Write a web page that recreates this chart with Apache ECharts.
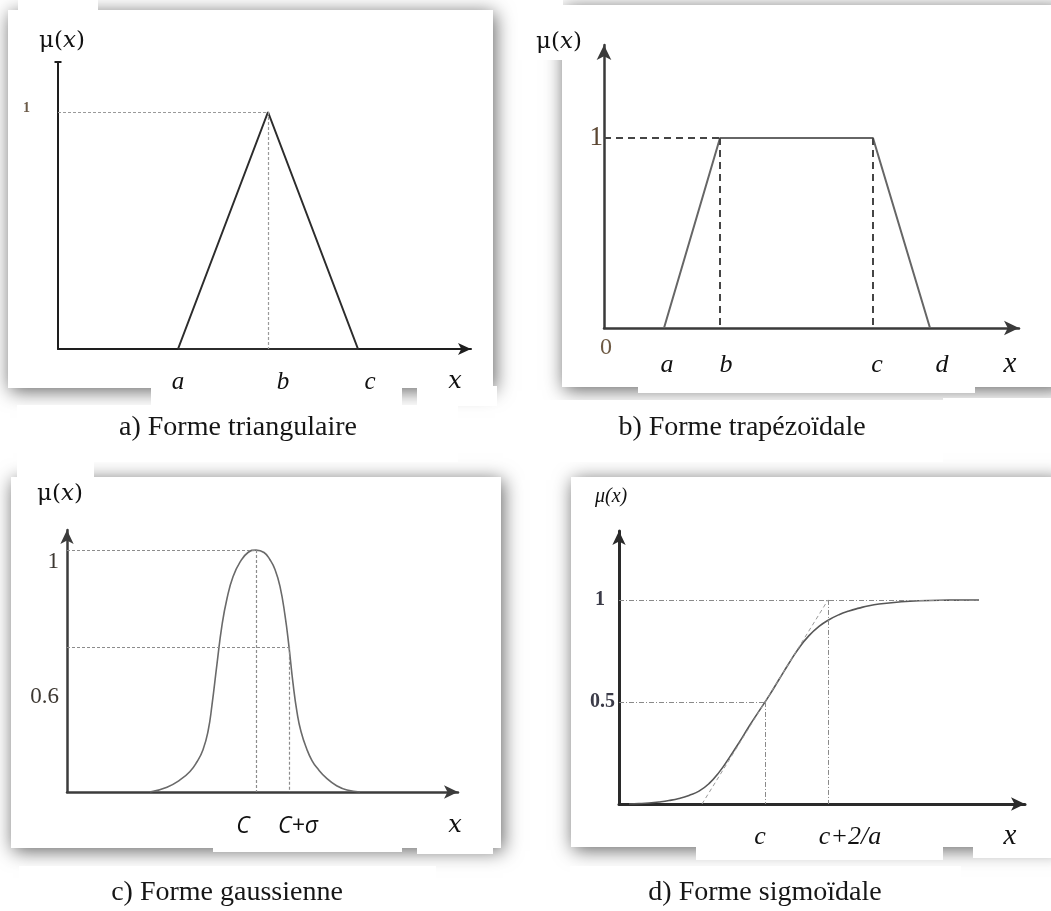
<!DOCTYPE html>
<html>
<head>
<meta charset="utf-8">
<script src="https://cdn.jsdelivr.net/npm/echarts@6/dist/echarts.min.js"></script>
<style>
  html, body { margin: 0; padding: 0; background: #ffffff; }
  #chart { width: 1051px; height: 911px; }
</style>
</head>
<body>
<div id="chart"></div>
<script>
// ---- a) triangular membership function ----
const triX = [12, 21, 30];
const triY = [0, 1, 0];
const triTicks = ['a', 'b', 'c'];
const triYTickValues = [1];
const triYTicks = ['1'];

// ---- b) trapezoidal membership function ----
const trapX = [6, 11.6, 26.9, 32.6];
const trapY = [0, 1, 1, 0];
const trapTickValues = [0, 6, 11.6, 26.9, 32.6];
const trapTicks = ['0', 'a', 'b', 'c', 'd'];
const trapYTickValues = [1];
const trapYTicks = ['1'];

// ---- c) gaussian membership function ----
const gaussCenter = 18.9;
const gaussSigmaPoint = 22.2;
const gaussLevel = 0.6;
const gaussX = [8.3, 10.0, 11.3, 12.3, 13.0, 13.6, 14.1, 14.5, 15.0, 15.5, 16.0, 16.6, 17.3, 18.1, 18.9,
                19.7, 20.3, 20.8, 21.3, 21.8, 22.2, 22.6, 23.0, 23.4, 24.0, 24.5, 25.0, 26.0, 27.0, 28.0, 29.3];
const gaussY = [0, 0.02, 0.05, 0.085, 0.125, 0.175, 0.25, 0.36, 0.53, 0.69, 0.80, 0.89, 0.95, 0.99, 1,
                0.99, 0.96, 0.92, 0.85, 0.73, 0.60, 0.45, 0.33, 0.25, 0.175, 0.13, 0.10, 0.055, 0.025, 0.008, 0];
const gaussTicks = ['C', 'C+σ'];
const gaussYTickValues = [1, 0.6];
const gaussYTicks = ['1', '0.6'];

// ---- d) sigmoid membership function ----
const sigCenter = 14.6;
const sigKnee = 20.9;          // c + 2/a
const sigTangentStart = 8.3;   // where the tangent at c meets the x axis
const sigX = [1, 2, 3, 4, 5, 6, 7, 8, 9, 10, 11, 12, 13, 14, 15, 16, 17, 18, 19, 20,
              21, 22, 23, 24, 25, 26, 28, 30, 33, 36];
const sigY = [0, 0.002, 0.005, 0.01, 0.017, 0.027, 0.042, 0.063, 0.10, 0.155, 0.225, 0.30, 0.38, 0.455,
              0.53, 0.61, 0.69, 0.765, 0.825, 0.87, 0.903, 0.928, 0.946, 0.96, 0.972, 0.98, 0.99, 0.996,
              0.999, 1.0];
const sigTicks = ['c', 'c+2/a'];
const sigYTickValues = [1, 0.5];
const sigYTicks = ['1', '0.5'];

const captions = ['a) Forme triangulaire', 'b) Forme trapézoïdale', 'c) Forme gaussienne', 'd) Forme sigmoïdale'];

// ---------------------------------------------------------------
const SERIF = '"Liberation Serif", "Times New Roman", serif';
const MATH = '"DejaVu Serif", serif';
const SANS = '"Open Sans", "DejaVu Sans", sans-serif';

const pairs = (xs, ys) => xs.map((x, i) => [x, ys[i]]);

// tick labels placed at given axis values; each label gets its own rich token style
function tickLabels(values, names, base, extra, margin) {
  const rich = {};
  names.forEach((n, i) => { rich['t' + i] = Object.assign({}, base, extra ? extra[i] : {}); });
  return {
    show: true,
    customValues: values,
    margin: margin,
    hideOverlap: false,
    formatter: (v) => {
      const i = values.findIndex(t => Math.abs(t - v) < 1e-6);
      return i < 0 ? '' : '{t' + i + '|' + names[i] + '}';
    },
    rich: rich
  };
}

function axisLine(color, width, endSymbol, size) {
  return {
    show: true, onZero: false,
    symbol: ['none', endSymbol], symbolSize: size,
    lineStyle: { color: color, width: width }
  };
}

function baseAxis(gridIndex, max) {
  return {
    type: 'value', gridIndex: gridIndex, min: 0, max: max,
    splitLine: { show: false }, axisTick: { show: false }
  };
}

function guides(segments, style) {
  return {
    silent: true, symbol: ['none', 'none'], animation: false,
    label: { show: false }, emphasis: { disabled: true },
    lineStyle: style,
    data: segments.map(s => [{ coord: s[0], lineStyle: s[2] }, { coord: s[1] }])
  };
}

const dotted = { color: '#8c8c8c', width: 1.2, type: [3, 2] };

const option = {
  animation: false,
  backgroundColor: '#ffffff',
  grid: [
    { left: 58, top: 62, width: 413, height: 287 },
    { left: 604, top: 45, width: 415, height: 283 },
    { left: 67, top: 530, width: 391, height: 262 },
    { left: 619, top: 531, width: 406, height: 273 }
  ],
  xAxis: [
    Object.assign(baseAxis(0, 41.3), {
      axisLine: axisLine('#1e1e1e', 2, 'arrow', [9, 13]),
      axisLabel: tickLabels(triX, triTicks,
        { fontFamily: SERIF, fontStyle: 'italic', fontSize: 25, color: '#111' },
        [{}, { padding: [0, 0, 0, 30] }, { padding: [0, 0, 0, 24] }], 21)
    }),
    Object.assign(baseAxis(1, 41.5), {
      axisLine: axisLine('#3a3a3a', 2.5, 'arrow', [11, 15]),
      axisLabel: tickLabels(trapTickValues, trapTicks,
        { fontFamily: SERIF, fontStyle: 'italic', fontSize: 26, color: '#111', padding: [18, 0, 0, 0] },
        [{ fontStyle: 'normal', fontSize: 24, color: '#6e5a44', padding: [2, 0, 0, 4] },
         { padding: [18, 0, 0, 6] }, { padding: [18, 0, 0, 12] },
         { padding: [18, 0, 0, 8] }, { padding: [18, 0, 0, 24] }], 6)
    }),
    Object.assign(baseAxis(2, 39.1), {
      axisLine: axisLine('#3c3c3c', 2.5, 'arrow', [10, 14]),
      axisLabel: tickLabels([gaussCenter, gaussSigmaPoint], gaussTicks,
        { fontFamily: SANS, fontStyle: 'italic', fontSize: 23, color: '#111' },
        [{ padding: [0, 26, 0, 0] }, { padding: [0, 0, 0, 18] }], 23)
    }),
    Object.assign(baseAxis(3, 40.6), {
      axisLine: axisLine('#2a2a2a', 3, 'arrow', [10, 14]),
      axisLabel: tickLabels([sigCenter, sigKnee], sigTicks,
        { fontFamily: SERIF, fontStyle: 'italic', fontSize: 26, color: '#111' },
        [{ padding: [0, 10, 0, 0] }, { padding: [0, 0, 0, 44] }], 20)
    })
  ],
  yAxis: [
    Object.assign(baseAxis(0, 1.211), {
      axisLine: axisLine('#1e1e1e', 2, 'rect', [7, 2]),
      axisLabel: tickLabels(triYTickValues, triYTicks,
        { fontFamily: SERIF, fontWeight: 'bold', fontSize: 14, color: '#6b5a48', padding: [0, 0, 8, 0] }, null, 28)
    }),
    Object.assign(baseAxis(1, 1.489), {
      axisLine: axisLine('#3a3a3a', 2.5, 'arrow', [11, 15]),
      axisLabel: tickLabels(trapYTickValues, trapYTicks,
        { fontFamily: SERIF, fontSize: 27, color: '#5b4632' }, null, 1)
    }),
    Object.assign(baseAxis(2, 1.083), {
      axisLine: axisLine('#3c3c3c', 2.5, 'arrow', [10, 14]),
      axisLabel: tickLabels(gaussYTickValues, gaussYTicks,
        { fontFamily: SERIF, fontSize: 23, color: '#3d3832' },
        [{ padding: [24, 0, 0, 0] }, { padding: [100, 0, 0, 0] }], 8)
    }),
    Object.assign(baseAxis(3, 1.338), {
      axisLine: axisLine('#2a2a2a', 3, 'arrow', [10, 14]),
      axisLabel: tickLabels(sigYTickValues, sigYTicks,
        { fontFamily: SERIF, fontWeight: 'bold', fontSize: 20, color: '#3b3b48' },
        [{ padding: [0, 10, 0, 0] }, {}], 4)
    })
  ],
  series: [
    {
      // a) triangle, closed along its base
      type: 'line', xAxisIndex: 0, yAxisIndex: 0, symbol: 'none', silent: true,
      data: pairs(triX, triY).concat([[triX[0], triY[0]]]),
      lineStyle: { color: '#2c2c2c', width: 2 },
      markLine: guides([
        [[0, triY[1]], [triX[1], triY[1]]],
        [[triX[1], triY[1]], [triX[1], 0]]
      ], { color: '#9a9a9a', width: 1.2, type: [3, 2] })
    },
    {
      // b) trapezoid
      type: 'line', xAxisIndex: 1, yAxisIndex: 1, symbol: 'none', silent: true,
      data: pairs(trapX, trapY),
      lineStyle: { color: '#666666', width: 2 },
      markLine: guides([
        [[0, trapY[1]], [trapX[1], trapY[1]]],
        [[trapX[1], trapY[1]], [trapX[1], 0]],
        [[trapX[2], trapY[2]], [trapX[2], 0]]
      ], { color: '#454545', width: 2, type: [7, 5] })
    },
    {
      // c) gaussian bell
      type: 'line', xAxisIndex: 2, yAxisIndex: 2, symbol: 'none', silent: true,
      smooth: 0.5,
      data: pairs(gaussX, gaussY),
      lineStyle: { color: '#6a6a6a', width: 1.6 },
      markLine: guides([
        [[0, 1], [gaussCenter, 1]],
        [[gaussCenter, 1], [gaussCenter, 0]],
        [[0, gaussLevel], [gaussSigmaPoint, gaussLevel]],
        [[gaussSigmaPoint, gaussLevel], [gaussSigmaPoint, 0]]
      ], dotted)
    },
    {
      // d) sigmoid
      type: 'line', xAxisIndex: 3, yAxisIndex: 3, symbol: 'none', silent: true,
      smooth: 0.5,
      data: pairs(sigX, sigY),
      lineStyle: { color: '#575757', width: 1.6 },
      markLine: guides([
        [[0, 1], [sigX[sigX.length - 1], 1]],
        [[0, 0.5], [sigCenter, 0.5]],
        [[sigCenter, 0.5], [sigCenter, 0]],
        [[sigKnee, 1], [sigKnee, 0]],
        [[sigTangentStart, 0], [sigKnee, 1], { color: '#9a9a9a', width: 1, type: [4, 3] }]
      ], { color: '#8a8a8a', width: 1, type: [5, 2, 1, 2] })
    }
  ],
  graphic: []
};

// panel sheets with drop shadows
const sheets = [
  [8, 10, 485, 378], [562, 5, 500, 382], [11, 477, 490, 371], [571, 477, 490, 370]
];
sheets.forEach(s => option.graphic.push({
  type: 'rect', z: -20, silent: true,
  shape: { x: s[0], y: s[1], width: s[2], height: s[3] },
  style: { fill: '#ffffff', shadowBlur: 18, shadowColor: 'rgba(0,0,0,0.62)', shadowOffsetX: 2, shadowOffsetY: 3 }
}));

// plain white patches behind axis titles, tick rows and captions
const patches = [
  [18, 0, 80, 12], [151, 386, 251, 20], [417, 386, 80, 20], [17, 405, 441, 57],
  [518, 0, 45, 60], [638, 385, 337, 8], [943, 398, 110, 24], [540, 400, 403, 62],
  [17, 462, 77, 43], [213, 846, 189, 6], [417, 846, 76, 8], [19, 866, 417, 45],
  [696, 845, 247, 15], [973, 845, 80, 13], [570, 866, 391, 45]
];
patches.forEach(p => option.graphic.push({
  type: 'rect', z: -10, silent: true,
  shape: { x: p[0], y: p[1], width: p[2], height: p[3] },
  style: { fill: '#ffffff' }
}));

// μ(x) axis titles
function muTitle(x, y, size, allItalic) {
  const up = allItalic
    ? { fontFamily: SERIF, fontStyle: 'italic', fontSize: size, fill: '#111' }
    : { fontFamily: MATH, fontSize: size, fill: '#111' };
  const it = allItalic
    ? up
    : { fontFamily: MATH, fontStyle: 'italic', fontSize: size, fill: '#111' };
  return {
    type: 'text', x: x, y: y, z: 10, silent: true,
    style: {
      text: '{u|μ(}{i|x}{u|)}', verticalAlign: 'middle', align: 'left',
      rich: { u: up, i: it }
    }
  };
}
option.graphic.push(muTitle(39, 41, 23, false));
option.graphic.push(muTitle(536, 42, 23, false));
option.graphic.push(muTitle(37, 494, 23, false));
option.graphic.push(muTitle(595, 497, 20, true));

// x axis titles
function xTitle(x, y, family, size) {
  return {
    type: 'text', x: x, y: y, z: 10, silent: true,
    style: { text: 'x', fontFamily: family, fontStyle: 'italic', fontSize: size, fill: '#111',
             align: 'center', verticalAlign: 'middle' }
  };
}
option.graphic.push(xTitle(455, 382, MATH, 24));
option.graphic.push(xTitle(1010, 364, SERIF, 29));
option.graphic.push(xTitle(455, 826, MATH, 24));
option.graphic.push(xTitle(1010, 836, SERIF, 29));

// captions under each panel
const captionPos = [[238, 428], [742, 428], [227, 893], [765, 893]];
captions.forEach((c, i) => option.graphic.push({
  type: 'text', x: captionPos[i][0], y: captionPos[i][1], z: 10, silent: true,
  style: { text: c, fontFamily: SERIF, fontSize: 28, fill: '#161616', align: 'center', verticalAlign: 'middle' }
}));

const chart = echarts.init(document.getElementById('chart'));
chart.setOption(option);
</script>
</body>
</html>
